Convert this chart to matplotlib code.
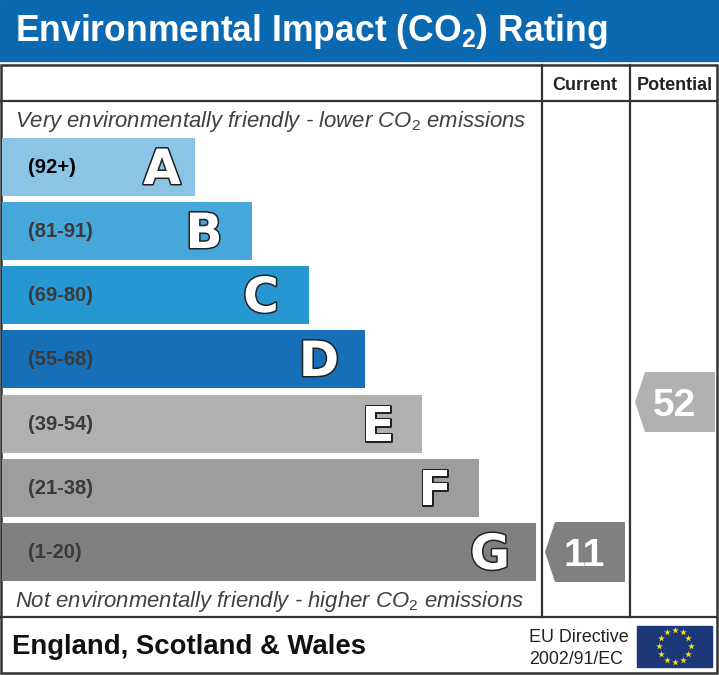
import numpy as np
import matplotlib
matplotlib.use("Agg")
import matplotlib.pyplot as plt
import matplotlib.patheffects as pe
from matplotlib.patches import Polygon, Rectangle

plt.rcParams['font.family'] = ['Liberation Sans', 'DejaVu Sans']
plt.rcParams['mathtext.fontset'] = 'custom'
plt.rcParams['mathtext.rm'] = 'Liberation Sans'
plt.rcParams['mathtext.it'] = 'Liberation Sans:italic'
plt.rcParams['mathtext.bf'] = 'Liberation Sans:bold'

# Bands, top to bottom
letters = ['A', 'B', 'C', 'D', 'E', 'F', 'G']
ranges = ['(92+)', '(81-91)', '(69-80)', '(55-68)', '(39-54)', '(21-38)', '(1-20)']
bar_lengths = [193, 250, 307, 363, 420, 477, 534]
bar_colors = ['#8cc4e6', '#45a7da', '#2697d1', '#1770b7', '#b1b1af', '#9d9d9d', '#808080']
bar_tops = [138, 202, 266, 330, 395, 459, 523]
letter_x = [162, 204, 261, 319, 378, 435, 490]
current = 11
potential = 52

fig = plt.figure(figsize=(7.19, 6.75), dpi=100)
ax = fig.add_axes([0, 0, 1, 1])
ax.set_xlim(0, 719)
ax.set_ylim(675, 0)
ax.axis('off')

# Title band
ax.add_patch(Rectangle((0, 0), 719, 61, color='#0a69b0'))
ax.text(15, 41, r'Environmental Impact (CO$\mathbf{_2}$) Rating', color='white',
        fontsize=25.6, fontweight='bold', va='baseline', ha='left')

# Frame
line_col = '#333333'
ax.add_patch(Rectangle((1, 65), 716, 608, fill=False, ec=line_col, lw=1.8))
ax.plot([1, 717], [101, 101], color=line_col, lw=1.6)
ax.plot([1, 717], [617, 617], color=line_col, lw=1.6)
ax.plot([542, 542], [65, 617], color=line_col, lw=1.6)
ax.plot([630, 630], [65, 617], color=line_col, lw=1.6)

ax.text(585, 84, 'Current', fontsize=13, fontweight='bold', color='#222222', ha='center', va='center_baseline')
ax.text(674.5, 84, 'Potential', fontsize=13, fontweight='bold', color='#222222', ha='center', va='center_baseline')

ax.text(15, 121, r'Very environmentally friendly - lower CO$_2$ emissions', fontsize=15.9,
        style='italic', color='#404040', va='center')
ax.text(15, 601, r'Not environmentally friendly - higher CO$_2$ emissions', fontsize=15.9,
        style='italic', color='#404040', va='center')

# Bars
ax.barh(bar_tops, bar_lengths, height=58, left=2, align='edge', color=bar_colors)
for i, top in enumerate(bar_tops):
    ax.text(28, top + 27.5, ranges[i], fontsize=14.5, fontweight='bold',
            color='black' if i == 0 else '#3a3a3a', va='center_baseline')
    ax.text(letter_x[i], top + 46, letters[i], fontsize=35, fontweight='bold', family='DejaVu Sans',
            color='white', ha='center', va='baseline',
            path_effects=[pe.withStroke(linewidth=2.2, foreground='#222222')])

# Score pointers
def pointer(x, top, value, color):
    pts = [(x, top + 30), (x + 10, top), (x + 80, top), (x + 80, top + 60), (x + 10, top + 60)]
    ax.add_patch(Polygon(pts, closed=True, facecolor=color, edgecolor='none'))
    ax.text(x + 39, top + 29.5, str(value), color='white', fontsize=28, fontweight='bold',
            ha='center', va='center_baseline')

pointer(545, 522, current, bar_colors[6])
pointer(635, 372, potential, bar_colors[4])

# Footer
ax.text(12, 644, 'England, Scotland & Wales', fontsize=19.8, fontweight='bold', color='#111111', va='center_baseline')
ax.text(529, 636, 'EU Directive', fontsize=12.9, color='#222222', va='center_baseline')
ax.text(529, 657, '2002/91/EC', fontsize=12.8, color='#222222', va='center_baseline')

# EU flag
ax.add_patch(Rectangle((637, 626), 75, 41, color='#1d3878'))
ang = np.arange(12) * np.pi / 6
ax.scatter(674.5 + 16 * np.sin(ang), 646 - 16 * np.cos(ang), marker='*', s=26, color='#ffe000', linewidths=0, zorder=5)

fig.savefig('out.png', dpi=100)
